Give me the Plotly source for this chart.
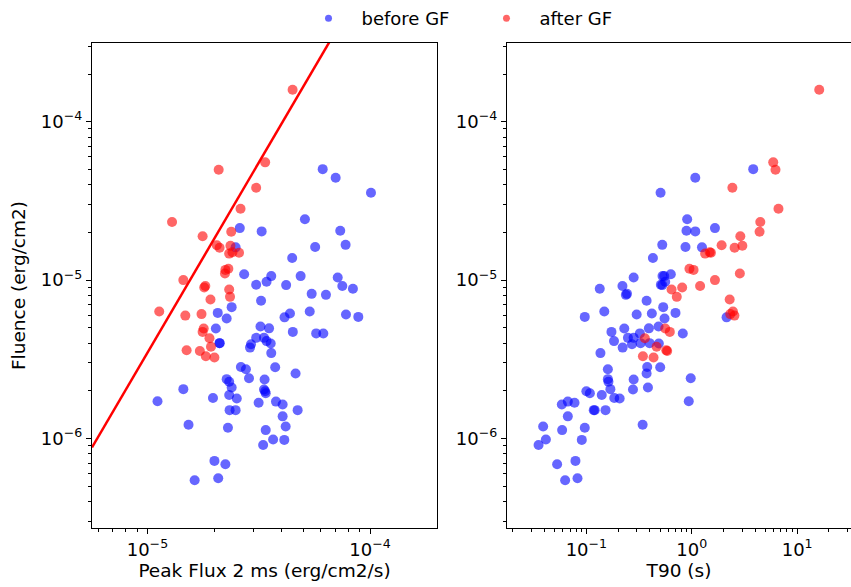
import numpy as np
import plotly.graph_objects as go

# ---------------- data ----------------
before_peak_flux = [6.13e-5, 7.01e-5, 1.01e-4, 5.10e-5, 2.60e-5, 7.35e-5, 3.26e-5, 7.77e-5, 5.67e-5, 2.49e-5,
                    4.47e-5, 2.72e-5, 3.60e-5, 4.88e-5, 7.16e-5, 3.43e-5, 3.08e-5, 4.20e-5, 7.51e-5, 8.38e-5,
                    5.47e-5, 6.34e-5, 3.24e-5, 2.39e-5, 5.36e-5, 2.07e-5, 4.37e-5, 7.80e-5, 8.86e-5, 4.13e-5,
                    2.27e-5, 3.22e-5, 2.03e-5, 3.52e-5, 4.50e-5, 5.73e-5, 6.17e-5, 3.08e-5, 3.34e-5, 3.43e-5,
                    2.11e-5, 2.11e-5, 3.58e-5, 2.92e-5, 2.89e-5, 3.60e-5, 2.63e-5, 3.75e-5, 2.77e-5, 4.63e-5,
                    2.86e-5, 2.27e-5, 3.36e-5, 2.33e-5, 2.39e-5, 1.45e-5, 3.34e-5, 3.38e-5, 3.40e-5, 2.33e-5,
                    1.97e-5, 2.52e-5, 1.11e-5, 3.78e-5, 3.16e-5, 4.05e-5, 4.73e-5, 2.34e-5, 2.49e-5, 4.05e-5,
                    1.53e-5, 4.18e-5, 2.30e-5, 3.40e-5, 3.67e-5, 4.12e-5, 3.31e-5, 2.00e-5, 2.24e-5, 2.08e-5,
                    1.63e-5]
before_t90 = [3.83, 1.08, 0.506, 0.905, 1.66, 0.891, 1.08, 0.525, 0.872, 1.25,
              0.428, 0.633, 0.528, 0.548, 0.281, 0.560, 0.509, 0.525, 0.220, 0.134,
              0.243, 0.237, 0.373, 0.536, 0.148, 0.701, 0.418, 0.300, 0.0966, 2.14,
              0.552, 0.484, 0.229, 0.392, 0.173, 0.322, 0.822, 0.248, 0.281, 0.183,
              0.327, 0.398, 0.487, 0.271, 0.221, 0.136, 0.378, 0.502, 0.160, 0.373,
              0.978, 0.160, 0.281, 0.162, 0.384, 0.169, 0.277, 0.100, 0.108, 0.140,
              0.184, 0.207, 0.937, 0.0667, 0.0772, 0.0585, 0.1175, 0.120, 0.152, 0.0667,
              0.342, 0.0389, 0.0966, 0.0589, 0.0413, 0.0905, 0.0352, 0.0788, 0.0528, 0.0824,
              0.0629]
before_fluence = [5.02e-5, 4.43e-5, 3.56e-5, 2.42e-5, 2.13e-5, 2.05e-5, 2.03e-5, 1.67e-5, 1.62e-5, 1.61e-5,
                  1.38e-5, 1.09e-5, 1.06e-5, 1.06e-5, 1.04e-5, 9.76e-6, 9.34e-6, 9.30e-6, 9.17e-6, 8.81e-6,
                  8.19e-6, 8.07e-6, 7.40e-6, 6.75e-6, 6.34e-6, 6.21e-6, 6.16e-6, 6.07e-6, 5.86e-6, 5.82e-6,
                  5.73e-6, 5.10e-6, 4.95e-6, 4.96e-6, 4.71e-6, 4.61e-6, 4.60e-6, 4.32e-6, 4.32e-6, 4.12e-6,
                  4.00e-6, 4.00e-6, 3.98e-6, 3.94e-6, 3.75e-6, 3.46e-6, 2.83e-6, 2.82e-6, 2.74e-6, 2.57e-6,
                  2.40e-6, 2.37e-6, 2.36e-6, 2.28e-6, 2.10e-6, 2.05e-6, 2.04e-6, 1.99e-6, 1.93e-6, 1.88e-6,
                  1.80e-6, 1.79e-6, 1.72e-6, 1.71e-6, 1.68e-6, 1.64e-6, 1.51e-6, 1.51e-6, 1.51e-6, 1.38e-6,
                  1.22e-6, 1.19e-6, 1.17e-6, 1.13e-6, 9.86e-7, 9.80e-7, 9.11e-7, 7.22e-7, 6.88e-7, 5.61e-7,
                  5.45e-7]

after_peak_flux = [4.49e-5, 3.38e-5, 2.09e-5, 3.08e-5, 2.62e-5, 1.29e-5, 2.38e-5, 1.77e-5, 2.05e-5, 2.36e-5,
                   2.11e-5, 2.41e-5, 2.58e-5, 2.33e-5, 2.31e-5, 2.24e-5, 2.23e-5, 1.45e-5, 1.82e-5, 1.80e-5,
                   2.33e-5, 2.35e-5, 1.92e-5, 1.13e-5, 1.75e-5, 1.48e-5, 1.79e-5, 1.77e-5, 1.90e-5, 1.93e-5,
                   1.50e-5, 1.72e-5, 1.83e-5, 2.00e-5]
after_t90 = [16.2, 5.93, 6.23, 2.43, 6.65, 4.47, 4.40, 2.89, 1.92, 3.02,
             2.55, 1.48, 1.52, 1.34, 0.951, 1.04, 2.86, 1.66, 1.20, 0.811,
             0.643, 0.721, 2.29, 2.46, 2.32, 2.54, 0.560, 0.619, 0.359, 0.464,
             0.573, 0.585, 0.344, 0.434]
after_fluence = [1.59e-4, 5.54e-5, 4.97e-5, 3.83e-5, 2.82e-5, 2.33e-5, 2.02e-5, 1.89e-5, 1.66e-5, 1.65e-5,
                 1.60e-5, 1.50e-5, 1.49e-5, 1.47e-5, 1.18e-5, 1.16e-5, 1.10e-5, 1.00e-5, 9.17e-6, 8.99e-6,
                 8.73e-6, 7.84e-6, 7.55e-6, 6.34e-6, 6.10e-6, 5.97e-6, 4.95e-6, 4.71e-6, 4.30e-6, 3.80e-6,
                 3.61e-6, 3.57e-6, 3.31e-6, 3.25e-6]

# red dividing line: fluence = 10**line_log_intercept * flux**line_slope
line_slope = 2.4
line_log_intercept = 6.541

# axis ranges (log10)
flux_range = [-5.249, -3.699]
t90_range = [-1.753, 1.511]
fluence_range = [-6.565, -3.503]

# tick labels (decades)
flux_tick_exps = [-5, -4]
t90_tick_exps = [-1, 0, 1]
fluence_tick_exps = [-6, -5, -4]

series_labels = ["before GF", "after GF"]
x_titles = ["Peak Flux 2 ms (erg/cm2/s)", "T90 (s)"]
y_title = "Fluence (erg/cm2)"

# ---------------- styling ----------------
BLUE = "rgba(0,0,255,0.6)"
RED = "rgba(255,0,0,0.6)"
FONT = "DejaVu Sans"
MS = 10
TICK_SIZE = 18
TITLE_SIZE = 18.5


def pow_label(e):
    s = str(e).replace("-", "\u2212")
    return "10<sup>" + s + "</sup>"


def minor_vals(rng):
    lo, hi = rng
    vals = []
    for e in range(int(np.floor(lo)) - 1, int(np.ceil(hi)) + 1):
        for k in range(2, 10):
            v = k * 10.0 ** e
            if lo <= np.log10(v) <= hi:
                vals.append(v)
    return vals


fig = go.Figure()

fig.add_trace(go.Scatter(x=before_peak_flux, y=before_fluence, mode="markers",
                         marker=dict(color=BLUE, size=MS, line=dict(width=0)),
                         showlegend=False, xaxis="x", yaxis="y"))
fig.add_trace(go.Scatter(x=after_peak_flux, y=after_fluence, mode="markers",
                         marker=dict(color=RED, size=MS, line=dict(width=0)),
                         showlegend=False, xaxis="x", yaxis="y"))
lx = np.array([10 ** flux_range[0], 10 ** flux_range[1]])
fig.add_trace(go.Scatter(x=lx, y=10 ** line_log_intercept * lx ** line_slope, mode="lines",
                         line=dict(color="red", width=2.5), showlegend=False,
                         xaxis="x", yaxis="y"))

fig.add_trace(go.Scatter(x=before_t90, y=before_fluence, mode="markers",
                         marker=dict(color=BLUE, size=MS, line=dict(width=0)),
                         showlegend=False, xaxis="x2", yaxis="y2"))
fig.add_trace(go.Scatter(x=after_t90, y=after_fluence, mode="markers",
                         marker=dict(color=RED, size=MS, line=dict(width=0)),
                         showlegend=False, xaxis="x2", yaxis="y2"))

# legend entries
for lab, col in zip(series_labels, [BLUE, RED]):
    fig.add_trace(go.Scatter(x=[None], y=[None], mode="markers", name=lab,
                             marker=dict(color=col, size=7, line=dict(width=0)),
                             xaxis="x", yaxis="y"))

W, H = 851, 587
ml, mr, mt, mb = 92, 0, 43, 59
pw = W - ml - mr

axis_common = dict(type="log", showgrid=False, zeroline=False, showline=True,
                   linecolor="black", linewidth=1.2, mirror=True,
                   ticks="outside", ticklen=5, tickwidth=1, tickcolor="black",
                   tickfont=dict(family=FONT, size=TICK_SIZE, color="black"))


def ticks(exps, rng):
    return dict(tickmode="array", tickvals=[10.0 ** e for e in exps],
                ticktext=[pow_label(e) for e in exps],
                minor=dict(tickmode="array", tickvals=minor_vals(rng), ticks="outside",
                           ticklen=3, tickwidth=1, tickcolor="black", showgrid=False))


fig.update_layout(
    width=W, height=H,
    margin=dict(l=ml, r=mr, t=mt, b=mb, autoexpand=False),
    paper_bgcolor="white", plot_bgcolor="white",
    font=dict(family=FONT, size=15, color="black"),
    xaxis=dict(axis_common, **ticks(flux_tick_exps, flux_range), domain=[0, 345 / pw], range=flux_range,
               title=dict(text=x_titles[0], font=dict(family=FONT, size=TITLE_SIZE), standoff=4)),
    yaxis=dict(axis_common, **ticks(fluence_tick_exps, fluence_range), domain=[0, 1], range=fluence_range,
               anchor="x", title=dict(text=y_title, font=dict(family=FONT, size=TITLE_SIZE), standoff=10)),
    xaxis2=dict(axis_common, **ticks(t90_tick_exps, t90_range), domain=[(507 - ml) / pw, 1], range=t90_range,
                anchor="y2", title=dict(text=x_titles[1], font=dict(family=FONT, size=TITLE_SIZE), standoff=4)),
    yaxis2=dict(axis_common, **ticks(fluence_tick_exps, fluence_range), domain=[0, 1], range=fluence_range,
                anchor="x2"),
    legend=dict(orientation="h", x=0.5 + 2 / pw, xanchor="center", yref="container", y=1.0,
                yanchor="top", font=dict(family=FONT, size=18), itemwidth=56, entrywidth=107,
                bgcolor="rgba(0,0,0,0)"),
)

fig.write_html("out.html")
